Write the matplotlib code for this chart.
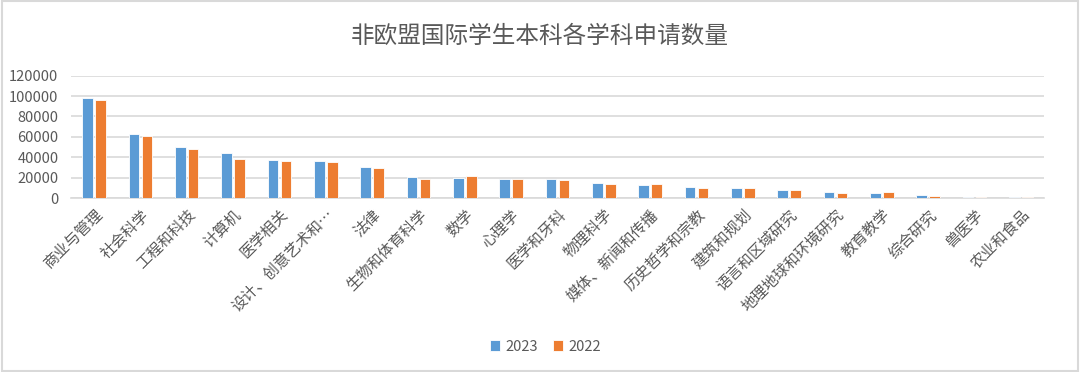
import matplotlib
matplotlib.use("Agg")
import matplotlib.pyplot as plt
import numpy as np
from matplotlib.patches import Rectangle

plt.rcParams['font.family'] = ['Noto Sans CJK SC', 'DejaVu Sans']

categories = ["商业与管理", "社会科学", "工程和科技", "计算机", "医学相关", "设计、创意艺术和…",
              "法律", "生物和体育科学", "数学", "心理学", "医学和牙科", "物理科学",
              "媒体、新闻和传播", "历史哲学和宗教", "建筑和规划", "语言和区域研究",
              "地理地球和环境研究", "教育教学", "综合研究", "兽医学", "农业和食品"]
values_2023 = [98500, 62700, 49600, 44000, 37700, 36000, 30300, 20700, 19800, 19000,
               18400, 14800, 12500, 10900, 10200, 7600, 5900, 5200, 2600, 1300, 1300]
values_2022 = [96200, 61100, 47600, 38600, 36100, 35400, 29600, 19000, 21300, 19000,
               17400, 13400, 13400, 10200, 10200, 7600, 5200, 5900, 2000, 1300, 1400]
series_names = ["2023", "2022"]

blue = "#5b9bd5"
orange = "#ed7d31"
gray_text = "#595959"

fig = plt.figure(figsize=(10.8, 3.72), dpi=100)
fig.patches.append(Rectangle((0.002, 0.004), 0.996, 0.992, transform=fig.transFigure,
                             fill=False, edgecolor="#d9d9d9", linewidth=1.5))
ax = fig.add_axes([0.0657, 0.4677, 0.901, 0.329])

x = np.arange(len(categories))
w = 0.225
off = 0.14
ax.bar(x - off, values_2023, width=w, color=blue, edgecolor="white", linewidth=0.6,
       label=series_names[0], zorder=3)
ax.bar(x + off, values_2022, width=w, color=orange, edgecolor="white", linewidth=0.6,
       label=series_names[1], zorder=3)

ax.set_xlim(-0.5, len(categories) - 0.5)
ax.set_ylim(0, 120000)
ax.set_yticks(np.arange(0, 120001, 20000))
ax.yaxis.grid(True, color="#d9d9d9", linewidth=1.2, zorder=0)
for s in ["top", "right", "left"]:
    ax.spines[s].set_visible(False)
ax.spines["bottom"].set_color("#d9d9d9")
ax.spines["bottom"].set_linewidth(1.2)
ax.tick_params(axis="both", length=0, colors=gray_text, labelsize=10.5)
ax.tick_params(axis="y", pad=9)
ax.set_xticks(x)
ax.set_xticklabels(categories, rotation=45, ha="right", rotation_mode="anchor",
                   fontsize=11, color=gray_text)
ax.tick_params(axis="x", pad=6)

fig.text(0.5, 0.903, "非欧盟国际学生本科各学科申请数量", ha="center", va="center",
         fontsize=17, color=gray_text)

leg = fig.legend(loc="center", bbox_to_anchor=(0.505, 0.068), ncol=2, frameon=False,
                 fontsize=10.5, handlelength=0.7, handleheight=0.7, handletextpad=0.4,
                 columnspacing=1.0, labelcolor=gray_text)

fig.savefig("out.png", dpi=100, facecolor="white")
